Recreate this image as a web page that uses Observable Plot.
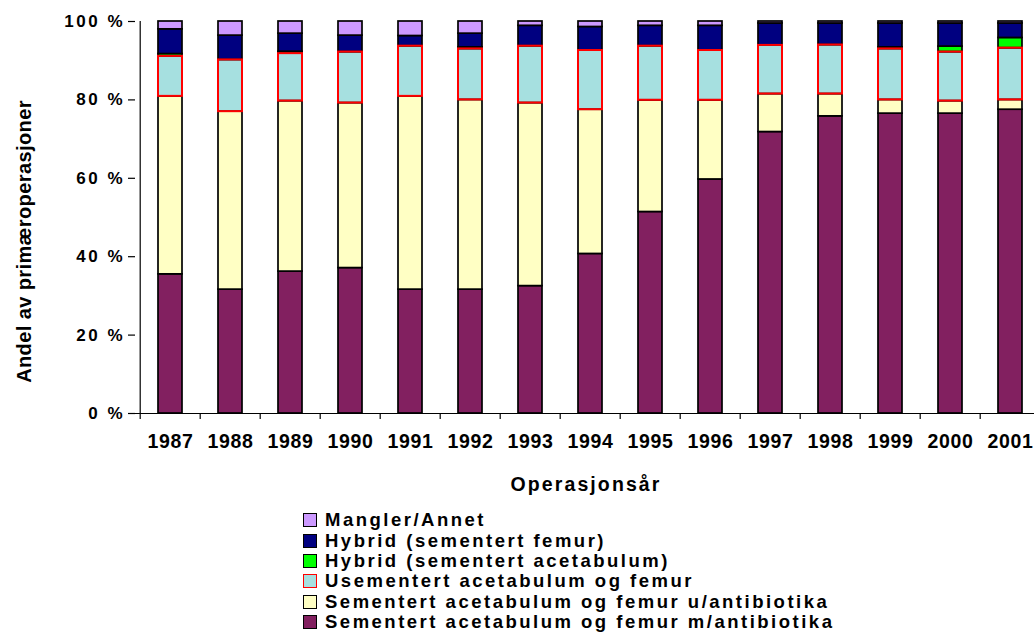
<!DOCTYPE html>
<html><head><meta charset="utf-8">
<script src="https://cdn.jsdelivr.net/npm/d3@7"></script>
<script src="https://cdn.jsdelivr.net/npm/@observablehq/plot@0.6"></script>
<style>
body{margin:0;background:#fff;overflow:hidden;font-family:"Liberation Sans",Arial,sans-serif;}
#chart{position:absolute;left:0;top:0;}
#legend{position:absolute;left:303px;top:510px;font-weight:bold;font-size:18.5px;letter-spacing:2.5px;color:#000;}
.item{display:flex;align-items:center;height:20.4px;white-space:nowrap;}
.sw{width:12px;height:12px;border:1px solid #000;margin-right:8px;box-sizing:content-box;}
#chart g[aria-label="y-axis tick label"] text{letter-spacing:2.5px;}
#chart g[aria-label="x-axis tick label"] text{letter-spacing:0.6px;}
</style></head><body>
<div id="chart"></div><div id="legend"></div>
<script>
const years = ["1987","1988","1989","1990","1991","1992","1993","1994","1995","1996","1997","1998","1999","2000","2001"];
const seriesNames = [
  "Sementert acetabulum og femur m/antibiotika",
  "Sementert acetabulum og femur u/antibiotika",
  "Usementert acetabulum og femur",
  "Hybrid (sementert acetabulum)",
  "Hybrid (sementert femur)",
  "Mangler/Annet"
];
const mAnti   = [35.5, 31.6, 36.2, 37.1, 31.6, 31.6, 32.5, 40.7, 51.4, 59.7, 71.8, 75.8, 76.5, 76.5, 77.5];
const uAnti   = [45.4, 45.4, 43.5, 42.1, 49.3, 48.4, 46.7, 36.8, 28.5, 20.2, 9.7, 5.7, 3.5, 3.2, 2.5];
const usem    = [10.2, 13.2, 12.1, 13.0, 12.8, 13.0, 14.5, 15.1, 13.8, 12.7, 12.4, 12.5, 13.0, 12.5, 13.2];
const hybAc   = [0.6, 0, 0.5, 0, 0, 0.4, 0, 0, 0, 0, 0, 0, 0.4, 1.4, 2.6];
const hybFem  = [6.3, 6.2, 4.6, 4.2, 2.6, 3.5, 5.2, 6.0, 5.2, 6.3, 5.6, 5.5, 6.1, 5.9, 3.7];
const mangler = [2.0, 3.6, 3.1, 3.6, 3.7, 3.1, 1.1, 1.4, 1.1, 1.1, 0.5, 0.5, 0.5, 0.5, 0.5];
const yTicks = [0, 20, 40, 60, 80, 100];
const colors = ["#822060", "#FFFFC4", "#A6E0E0", "#00FF00", "#000080", "#CC99FF"];
const legendOrder = [5, 4, 3, 2, 1, 0];
const xTitle = "Operasjonsår";
const yTitle = "Andel av primæroperasjoner";

const seriesValues = [mAnti, uAnti, usem, hybAc, hybFem, mangler];
const data = years.flatMap((yr, i) => seriesNames.map((s, k) => ({year: yr, series: s, value: seriesValues[k][i]})))
  .filter(d => d.value > 0);

const W = 1034, H = 505, left = 135, right = 1044;
const step = (right - left) / years.length;
const fam = "'Liberation Sans', Arial, sans-serif";

const chart = Plot.plot({
  width: W, height: H,
  marginTop: 21, marginBottom: 92, marginLeft: left, marginRight: 0,
  x: {type: "band", domain: years, range: [left, right], paddingInner: 0.6, paddingOuter: 0.3},
  y: {domain: [0, 100]},
  color: {domain: seriesNames, range: colors},
  style: {fontFamily: fam, fontWeight: "bold", fontSize: "19px", color: "#000", background: "#fff"},
  marks: [
    Plot.barY(data, {x: "year", y: "value", z: "series", fill: "series", stroke: "#000", strokeWidth: 1.7, order: seriesNames}),
    Plot.barY(data, {x: "year", y: "value", z: "series", fill: "none", stroke: "#ff0000", strokeWidth: 2,
      strokeOpacity: d => d.series === seriesNames[2] ? 1 : 0, order: seriesNames}),
    Plot.ruleY([0], {stroke: "#000", strokeWidth: 1.2}),
    Plot.ruleX([years[0]], {x: d => d, dx: -step / 2, y1: 0, y2: 100, stroke: "#000", strokeWidth: 1.2}),
    Plot.ruleX(years, {x: d => d, dx: -step / 2, y1: 0, y2: -1.5, stroke: "#000", strokeWidth: 1.2}),
    Plot.axisY({ticks: yTicks, tickFormat: d => d + " %", tickSize: 7, tickPadding: 3.5, label: null,
      fontSize: 17, strokeWidth: 1.2}),
    Plot.axisX({tickSize: 0, tickPadding: 21, label: null, fontSize: 19.5}),
    Plot.text([xTitle], {frameAnchor: "bottom", dy: 77, dx: 1, fontSize: 19.5, fontWeight: "bold"}),
    Plot.text([yTitle], {frameAnchor: "left", textAnchor: "middle", rotate: -90, dx: -111, dy: 24,
      fontSize: 20, fontWeight: "bold"})
  ]
});
d3.select(chart).selectAll("text").filter(function() { return this.textContent === xTitle; })
  .style("letter-spacing", "2.1px");
d3.select(chart).selectAll("text").filter(function() { return this.textContent === yTitle; })
  .style("letter-spacing", "0.4px");
document.getElementById("chart").appendChild(chart);

const lg = document.getElementById("legend");
legendOrder.forEach(k => {
  const it = document.createElement("div");
  it.className = "item";
  const sw = document.createElement("span");
  sw.className = "sw";
  sw.style.background = colors[k];
  if (k === 2) sw.style.borderColor = "#ff0000";
  const tx = document.createElement("span");
  tx.textContent = seriesNames[k];
  it.appendChild(sw); it.appendChild(tx);
  lg.appendChild(it);
});
</script>
</body></html>
